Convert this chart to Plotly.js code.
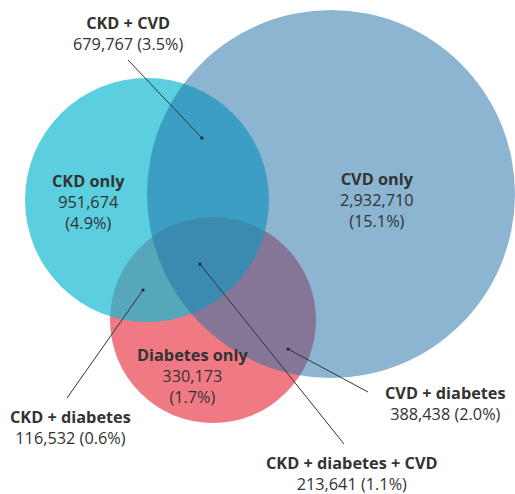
<!DOCTYPE html>
<html>
<head>
<meta charset="utf-8">
<script src="https://cdn.plot.ly/plotly-3.0.1.min.js"></script>
<style>html,body{margin:0;padding:0;background:#fff}#chart{width:515px;height:494px}</style>
</head>
<body>
<div id="chart"></div>
<script>
// ---- data ----
const regionLabels = ["CKD only", "CVD only", "Diabetes only", "CKD + CVD", "CKD + diabetes", "CVD + diabetes", "CKD + diabetes + CVD"];
const regionCounts = [951674, 2932710, 330173, 679767, 116532, 388438, 213641];
const regionPercents = [4.9, 15.1, 1.7, 3.5, 0.6, 2.0, 1.1];

// ---- layout geometry (pixel space) ----
const circles = [ // drawn bottom to top
  {name: "Diabetes", cx: 213, cy: 320, r: 103, color: "rgb(240,122,132)", opacity: 1},
  {name: "CKD",      cx: 147, cy: 200, r: 122, color: "rgb(22,186,209)",  opacity: 0.7},
  {name: "CVD",      cx: 331, cy: 194, r: 184, color: "rgb(34,113,169)",  opacity: 0.52}
];
const labelPos = [
  {x: 88,  y: 202, split: true},
  {x: 377, y: 200, split: true},
  {x: 193, y: 376, split: true},
  {x: 128, y: 33,  split: false},
  {x: 70,  y: 427, split: false},
  {x: 445, y: 403, split: false},
  {x: 352, y: 473, split: false}
];
// leader lines for overlap regions: [fromX, fromY, toX, toY]
const leaders = {
  3: [128, 60, 202, 138],
  4: [67, 398, 143, 290],
  5: [368, 392, 288, 349],
  6: [344, 444, 200, 264]
};

const fmt = n => n.toLocaleString("en-US");
const shapes = [];
circles.forEach(c => shapes.push({
  type: "circle", xref: "x", yref: "y",
  x0: c.cx - c.r, x1: c.cx + c.r, y0: c.cy - c.r, y1: c.cy + c.r,
  fillcolor: c.color, opacity: c.opacity, line: {width: 0}, layer: "below"
}));
Object.keys(leaders).forEach(k => {
  const L = leaders[k];
  shapes.push({type: "line", xref: "x", yref: "y", x0: L[0], y0: L[1], x1: L[2], y1: L[3],
    line: {color: "#333", width: 1}, layer: "above"});
  shapes.push({type: "circle", xref: "x", yref: "y", x0: L[2]-1.6, x1: L[2]+1.6, y0: L[3]-1.6, y1: L[3]+1.6,
    fillcolor: "#222", line: {width: 0}, layer: "above"});
});

const annotations = regionLabels.map((lab, i) => {
  const p = labelPos[i];
  const val = fmt(regionCounts[i]);
  const pct = "(" + regionPercents[i].toFixed(1) + "%)";
  const txt = "<b>" + lab + "</b><br>" + (p.split ? val + "<br>" + pct : val + " " + pct);
  return {x: p.x, y: p.y, xref: "x", yref: "y", text: txt, showarrow: false,
    align: "center", xanchor: "center", yanchor: "middle",
    font: {family: "Open Sans, Noto Sans, sans-serif", size: 16.3, color: "#333"}};
});

Plotly.newPlot("chart", [], {
  width: 515, height: 494,
  margin: {l: 0, r: 0, t: 0, b: 0},
  paper_bgcolor: "#fff", plot_bgcolor: "#fff",
  xaxis: {range: [0, 515], visible: false, fixedrange: true},
  yaxis: {range: [494, 0], visible: false, fixedrange: true},
  shapes: shapes,
  annotations: annotations,
  showlegend: false
}, {displayModeBar: false, staticPlot: true});
</script>
</body>
</html>
